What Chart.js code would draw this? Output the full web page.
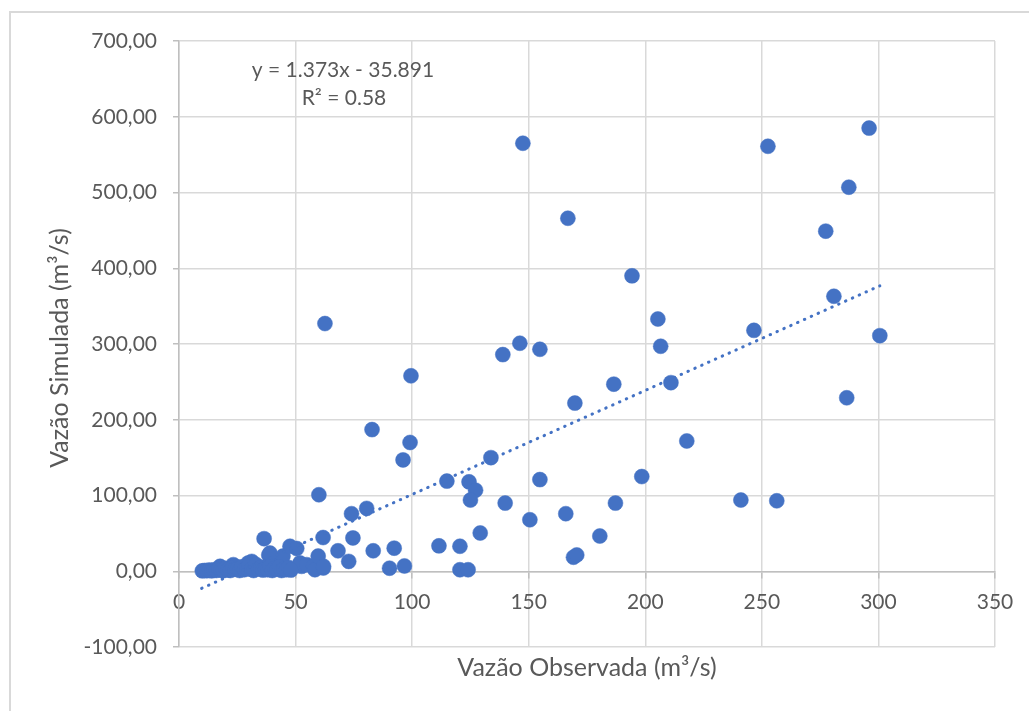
<!DOCTYPE html>
<html>
<head>
<meta charset="utf-8">
<script src="https://cdn.jsdelivr.net/npm/chart.js@4"></script>
<style>
  body { margin: 0; background: #fff; }
  #wrap { position: relative; width: 1029px; height: 711px; overflow: hidden; }
  #frame { position: absolute; left: 9px; top: 11px; width: 1100px; height: 800px;
           border-left: 2px solid #d9d9d9; border-top: 2px solid #d9d9d9; }
  canvas { position: absolute; left: 0; top: 0; }
</style>
</head>
<body>
<div id="wrap">
  <div id="frame"></div>
  <canvas id="myChart" width="1029" height="711"></canvas>
</div>
<script>
let obsX = [
  296, 147.5, 252.6, 287.3, 166.8, 277.4, 194.3, 280.9, 62.6, 205.4,
  246.6, 300.6, 146.2, 154.8, 138.9, 206.6, 99.5, 186.5, 211, 169.8,
  286.4, 82.8, 99.1, 217.8, 96.1, 133.8, 198.5, 114.9, 154.8, 124.4,
  127.2, 125, 60, 139.9, 187.2, 241, 256.4, 74, 165.9, 80.5,
  150.5, 36.5, 74.6, 61.8, 180.5, 111.5, 120.5, 129.2, 68.2, 92.3,
  83.3, 72.8, 169.2, 170.6, 90.3, 96.7, 120.5, 124,
  38.5, 42, 44.6, 39, 47.6, 50.5, 52.6, 51.9, 54.8, 57.6,
  58.3, 61.9, 59.7, 62, 29.7, 31.2, 23.3, 17.6,
  10, 11, 12, 13, 14, 15, 16, 17, 18, 19,
  20, 21, 22, 23, 24, 25, 26, 27, 28, 29,
  30, 31, 32, 33, 34, 35, 36, 37, 38, 39,
  40, 41, 42, 43, 44, 45, 46, 47, 48
];
let simY = [
  585, 565, 561, 507, 466, 449, 390, 363, 327, 333,
  318, 311, 301, 293, 286, 297, 258, 247, 249, 222,
  229, 187, 170, 172, 147, 150, 125, 119, 121, 118,
  107, 94, 101, 90, 90, 94, 93, 76, 76, 83,
  68, 43, 44, 44.5, 46.5, 33.5, 33, 50.5, 27, 30.5,
  27, 13, 18.5, 21.5, 4, 7, 2, 2,
  21.5, 15, 20, 24, 33, 30, 6.5, 11, 8.7, 6.5,
  2, 4.3, 20, 6.5, 11, 13, 8.7, 6.5,
  0.5, 1, 0.8, 1.5, 0.5, 2, 1, 3, 1.5, 0.8,
  4, 2, 1, 5, 2.5, 3, 1, 6, 2, 4,
  8, 2.5, 1, 9, 3, 5, 1.5, 3, 2, 7,
  1, 4, 2.5, 6, 1, 3, 2, 5, 1.5
];

// linear trendline as shown on the chart
let slope = 1.373;
let intercept = -35.891;
let trendX = [9.7, 300.6];
let xTicks = [0, 50, 100, 150, 200, 250, 300, 350];
let yTicks = [-100, 0, 100, 200, 300, 400, 500, 600, 700];

let points = obsX.map((x, i) => ({ x: x, y: simY[i] }));
let trend = trendX.map((x) => ({ x: x, y: slope * x + intercept }));

const textColor = "#595959";
const fontFamily = "Lato, 'Liberation Sans', sans-serif";

const labels = {
  id: "labels",
  afterDraw(chart) {
    const ctx = chart.ctx;
    ctx.save();
    ctx.fillStyle = textColor;
    ctx.textAlign = "center";
    ctx.textBaseline = "middle";
    ctx.font = "21px " + fontFamily;
    ctx.fillText("y = 1.373x - 35.891", 343, 70);
    ctx.fillText("R\u00b2 = 0.58", 344, 98);
    ctx.font = "25px " + fontFamily;
    ctx.fillText("Vazão Observada (m\u00b3/s)", 587, 668);
    ctx.translate(60, 348);
    ctx.rotate(-Math.PI / 2);
    ctx.fillText("Vazão Simulada (m\u00b3/s)", 0, 0);
    ctx.restore();
  },
};

new Chart(document.getElementById("myChart"), {
  type: "scatter",
  data: {
    datasets: [
      {
        label: "Vazão",
        data: points,
        pointRadius: 7.5,
        pointBackgroundColor: "#4472C4",
        pointBorderColor: "#4472C4",
        pointBorderWidth: 0.5,
        order: 2,
      },
      {
        label: "Linear",
        data: trend,
        showLine: true,
        pointRadius: 0,
        borderColor: "#4472C4",
        borderWidth: 3,
        borderDash: [0.5, 7],
        borderCapStyle: "round",
        order: 1,
      },
    ],
  },
  options: {
    responsive: false,
    animation: false,
    layout: { padding: { left: 0, top: 41, right: 34, bottom: 64 } },
    plugins: {
      legend: { display: false },
      tooltip: { enabled: false },
    },
    scales: {
      x: {
        type: "linear",
        position: { y: 0 },
        min: 0,
        max: 350,
        afterBuildTicks: (s) => { s.ticks = xTicks.map((v) => ({ value: v })); },
        ticks: {
          color: textColor,
          font: { family: fontFamily, size: 21 },
          padding: 12,
        },
        grid: { color: "#d9d9d9", lineWidth: 1.5, tickLength: 6, tickColor: "#bfbfbf" },
        border: { color: "#bfbfbf", width: 1.5 },
      },
      y: {
        min: -100,
        max: 700,
        afterBuildTicks: (s) => { s.ticks = yTicks.map((v) => ({ value: v })); },
        afterFit: (s) => { s.width = 179; },
        ticks: {
          color: textColor,
          font: { family: fontFamily, size: 21 },
          padding: 16,
          callback: (v) => v.toFixed(2).replace(".", ","),
        },
        grid: { color: "#d9d9d9", lineWidth: 1.5, tickLength: 6, tickColor: "#bfbfbf" },
        border: { color: "#bfbfbf", width: 1.5 },
      },
    },
  },
  plugins: [labels],
});
</script>
</body>
</html>
